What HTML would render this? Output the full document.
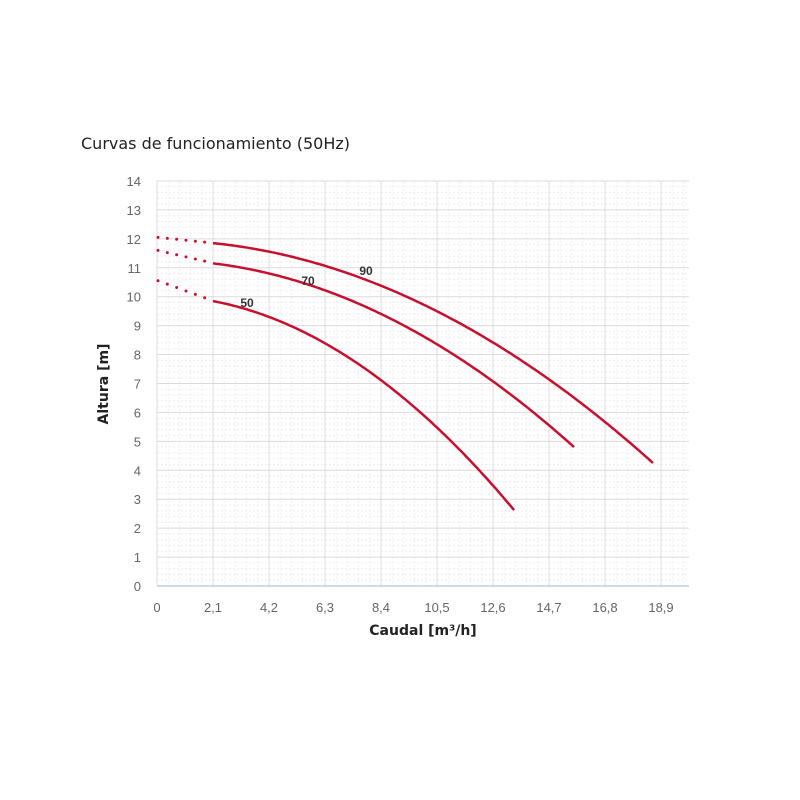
<!DOCTYPE html>
<html><head><meta charset="utf-8"><style>
body{margin:0;background:#fff;width:800px;height:800px;overflow:hidden}
svg{position:absolute;left:0;top:0}
</style></head><body>
<svg id="s" width="800" height="800" xmlns="http://www.w3.org/2000/svg" font-family="Liberation Sans, sans-serif">
<text x="81" y="149" font-size="16" fill="#222" font-family="DejaVu Sans, sans-serif">Curvas de funcionamiento (50Hz)</text>
<g id="grid"></g>
<g id="curves"></g>
<text x="308" y="285" font-size="12" font-weight="bold" fill="#333" text-anchor="middle">70</text>
<text x="366" y="275" font-size="12" font-weight="bold" fill="#333" text-anchor="middle">90</text>
<text x="247" y="307" font-size="12" font-weight="bold" fill="#333" text-anchor="middle">50</text>
<text x="423" y="635" font-size="14" font-weight="bold" fill="#222" text-anchor="middle" font-family="DejaVu Sans, sans-serif">Caudal [m³/h]</text>
<text transform="translate(108,384) rotate(-90)" font-size="14" font-weight="bold" fill="#222" text-anchor="middle" font-family="DejaVu Sans, sans-serif">Altura [m]</text>
</svg>
<script>
var x0=157,y0=586,px=56/2.1,py=28.93,R=689,T=181;
var g='';
function X(q){return x0+q*px}function Y(h){return y0-h*py}
for(var i=0;i<=70;i++){var y=Y(i*0.2);if(i%5)g+='<line x1="'+x0+'" x2="'+R+'" y1="'+y+'" y2="'+y+'" stroke="#eee" stroke-dasharray="2,2"/>';}
for(var q=0;X(q)<=R;q+=0.42){if(Math.round(q/0.42)%5)g+='<line y1="'+T+'" y2="'+y0+'" x1="'+X(q)+'" x2="'+X(q)+'" stroke="#eee" stroke-dasharray="2,2"/>';}
for(var h=0;h<=14;h++){var y=Y(h);g+='<line x1="'+x0+'" x2="'+R+'" y1="'+y+'" y2="'+y+'" stroke="#dcdcdc"/>';g+='<text x="141" y="'+(y+5)+'" font-size="13" fill="#666" text-anchor="end">'+h+'</text>';}
var lab=['0','2,1','4,2','6,3','8,4','10,5','12,6','14,7','16,8','18,9'];
for(var k=0;k<10;k++){var x=X(k*2.1);g+='<line y1="'+T+'" y2="'+y0+'" x1="'+x+'" x2="'+x+'" stroke="#dcdcdc"/>';g+='<text x="'+x+'" y="612" font-size="13" fill="#666" text-anchor="middle">'+lab[k]+'</text>';}
g+='<line x1="'+x0+'" x2="'+R+'" y1="'+y0+'" y2="'+y0+'" stroke="#c0cfe0" stroke-width="1.5"/>';
document.getElementById('grid').innerHTML=g;
var C=[[11.95,0.02225,18.6,12.05],[11.27,0.02644,15.64,11.6],[10.03,0.0413,13.39,10.55]];
var c='';
C.forEach(function(p){var a=p[0],b=p[1],e=p[2],s=p[3];var pts=[];
for(var q=2.1;q<=e+1e-6;q+=0.1)pts.push(X(q).toFixed(1)+','+Y(a-b*q*q).toFixed(1));
pts.push(X(e).toFixed(1)+','+Y(a-b*e*e).toFixed(1));
c+='<polyline points="'+pts.join(' ')+'" fill="none" stroke="#c8102e" stroke-width="2.5"/>';
var h2=a-b*4.41;for(var j=0;j<6;j++){var t=j/6;var x=x0+t*(X(2.1)-x0)+1;var h=s+(h2-s)*t;c+='<circle cx="'+x+'" cy="'+Y(h)+'" r="1.5" fill="#c8102e"/>';}
});
document.getElementById('curves').innerHTML=c;
</script>
</body></html>
